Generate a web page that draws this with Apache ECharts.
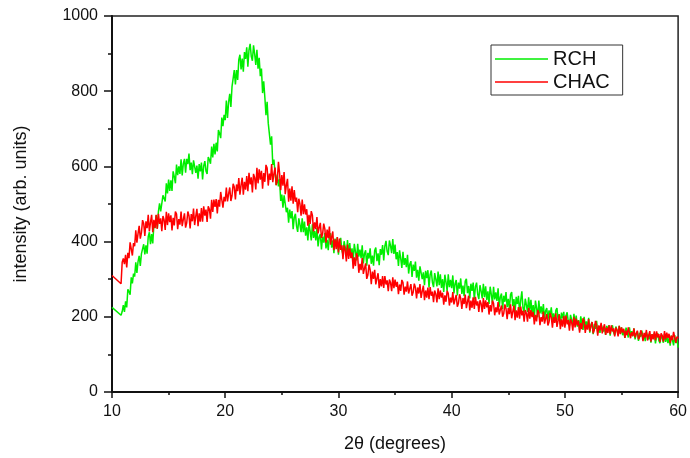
<!DOCTYPE html>
<html>
<head>
<meta charset="utf-8">
<script src="https://cdn.jsdelivr.net/npm/echarts@6/dist/echarts.min.js"></script>
<style>
html,body{margin:0;padding:0;background:#fff;}
#chart{width:690px;height:458px;}
</style>
</head>
<body>
<div id="chart"></div>
<script>
// ---- data ----
const seriesNames = ['RCH', 'CHAC'];
const xTicks = [10, 20, 30, 40, 50, 60];
const yTicks = [0, 200, 400, 600, 800, 1000];

// first recorded point (2θ = 10.0)
const firstX = 10.0;
const rchFirst = 225;
const chacFirst = 310;

// regular scan: 2θ from 10.8 to 60.0, step 0.1
const scanStart = 10.8;
const scanStep = 0.1;

const rch = [
  204, 214,
  231, 213, 241, 225, 273, 267, 259, 305, 289, 315,
  307, 345, 317, 347, 362, 335, 368, 364, 393, 366,
  390, 368, 413, 425, 393, 420, 395, 445, 437, 470,
  435, 480, 502, 480, 475, 523, 518, 507, 555, 528,
  565, 535, 563, 535, 587, 573, 555, 605, 577, 600,
  580, 619, 576, 607, 620, 583, 620, 606, 634, 590,
  610, 579, 616, 621, 583, 602, 567, 606, 587, 610,
  565, 601, 614, 588, 580, 625, 618, 607, 653, 624,
  660, 632, 663, 640, 697, 688, 675, 730, 707, 737,
  723, 775, 729, 771, 793, 758, 812, 809, 856, 818,
  856, 830, 884, 897, 858, 887, 852, 904, 886, 917,
  865, 910, 926, 893, 881, 922, 899, 870, 910, 860,
  889, 840, 860, 795, 826, 784, 736, 772, 715, 712,
  658, 680, 604, 618, 613, 550, 578, 547, 566, 508,
  525, 490, 523, 522, 478, 490, 450, 485, 462, 481,
  433, 465, 474, 441, 426, 462, 445, 425, 462, 425,
  453, 416, 438, 403, 449, 428, 403, 446, 410, 428,
  403, 436, 387, 412, 420, 379, 413, 397, 423, 382,
  405, 377, 416, 422, 384, 403, 369, 408, 389, 411,
  365, 399, 410, 378, 365, 401, 385, 365, 404, 367,
  396, 360, 382, 348, 394, 374, 350, 394, 360, 379,
  356, 390, 342, 368, 377, 336, 370, 355, 382, 341,
  363, 336, 376, 384, 348, 369, 337, 380, 365, 391,
  350, 388, 402, 374, 364, 403, 389, 369, 407, 367,
  392, 353, 372, 335, 377, 355, 330, 373, 338, 356,
  332, 365, 315, 340, 348, 306, 339, 322, 347, 304,
  325, 296, 334, 339, 300, 318, 284, 322, 303, 324,
  278, 312, 323, 292, 279, 316, 300, 281, 320, 284,
  313, 277, 300, 266, 312, 292, 268, 313, 279, 298,
  276, 310, 262, 288, 298, 257, 291, 275, 302, 261,
  283, 255, 295, 301, 263, 282, 249, 288, 269, 291,
  246, 280, 291, 260, 247, 284, 268, 249, 288, 252,
  281, 245, 268, 234, 280, 260, 236, 280, 246, 265,
  242, 276, 227, 253, 262, 221, 256, 240, 266, 226,
  248, 220, 259, 266, 228, 247, 213, 253, 234, 256,
  210, 244, 268, 224, 211, 248, 232, 213, 252, 216,
  245, 209, 231, 197, 243, 223, 199, 243, 209, 228,
  207, 234, 195, 216, 223, 190, 217, 204, 225, 192,
  209, 186, 217, 223, 192, 207, 180, 211, 196, 213,
  176, 203, 212, 187, 176, 205, 192, 177, 208, 180,
  203, 174, 191, 164, 201, 184, 165, 200, 173, 188,
  169, 197, 158, 179, 186, 154, 181, 168, 189, 157,
  173, 157, 180, 184, 161, 173, 152, 176, 164, 178,
  150, 171, 177, 159, 151, 174, 164, 153, 176, 155,
  172, 151, 164, 144, 171, 160, 145, 172, 151, 162,
  148, 169, 140, 155, 161, 136, 157, 147, 163, 138,
  152, 135, 159, 162, 140, 151, 131, 154, 143, 156,
  129, 149, 156, 137, 130, 152, 143, 131, 155, 133,
  151, 130, 143, 123, 150, 139, 124, 151, 130, 142,
  118
];

const chac = [
  288, 345,
  355, 340, 365, 331, 370, 356, 398, 397, 363, 396,
  388, 430, 397, 421, 442, 408, 424, 457, 448, 415,
  454, 436, 471, 427, 451, 471, 425, 458, 436, 471,
  434, 474, 447, 462, 428, 468, 458, 431, 479, 444,
  475, 452, 470, 430, 463, 443, 480, 473, 433, 460,
  445, 480, 441, 459, 475, 437, 450, 480, 469, 435,
  473, 454, 488, 444, 468, 487, 441, 475, 453, 489,
  453, 494, 469, 485, 452, 494, 486, 461, 511, 479,
  512, 492, 513, 475, 511, 493, 532, 528, 490, 519,
  507, 544, 507, 527, 544, 508, 522, 554, 545, 512,
  552, 534, 569, 525, 550, 570, 525, 559, 538, 574,
  534, 583, 552, 571, 531, 580, 570, 539, 596, 555,
  592, 565, 588, 541, 582, 559, 604, 596, 549, 581,
  564, 606, 558, 580, 597, 550, 563, 612, 582, 537,
  577, 549, 585, 526, 550, 567, 506, 541, 509, 547,
  501, 537, 506, 517, 478, 514, 500, 469, 512, 473,
  499, 472, 486, 442, 471, 447, 481, 470, 427, 451,
  433, 465, 422, 437, 450, 410, 420, 448, 434, 397,
  432, 409, 440, 392, 412, 427, 377, 406, 380, 412,
  371, 408, 378, 390, 353, 390, 377, 347, 392, 354,
  382, 356, 371, 328, 358, 335, 369, 359, 317, 341,
  324, 356, 314, 329, 342, 301, 311, 339, 325, 287,
  320, 301, 325, 286, 302, 316, 276, 300, 281, 308,
  277, 308, 286, 297, 268, 299, 291, 268, 305, 276,
  299, 280, 293, 260, 286, 269, 298, 291, 259, 280,
  267, 294, 262, 275, 287, 256, 265, 288, 278, 249,
  278, 262, 287, 250, 268, 283, 244, 270, 251, 278,
  247, 279, 256, 267, 239, 270, 261, 238, 276, 247,
  270, 251, 264, 232, 257, 240, 269, 262, 230, 251,
  238, 266, 233, 246, 258, 227, 236, 260, 249, 221,
  250, 234, 259, 223, 240, 256, 217, 243, 224, 252,
  221, 253, 230, 241, 213, 244, 235, 212, 250, 221,
  244, 225, 239, 206, 231, 214, 243, 236, 204, 225,
  212, 239, 206, 219, 230, 200, 209, 233, 222, 194,
  223, 207, 233, 196, 214, 230, 191, 217, 198, 226,
  195, 227, 204, 216, 187, 218, 209, 187, 224, 195,
  218, 199, 213, 180, 205, 188, 218, 211, 178, 199,
  187, 214, 182, 195, 207, 177, 186, 210, 199, 171,
  200, 184, 209, 173, 190, 206, 167, 193, 174, 202,
  171, 203, 180, 191, 163, 194, 185, 163, 200, 172,
  195, 177, 190, 158, 183, 167, 196, 190, 157, 179,
  166, 194, 161, 175, 186, 156, 165, 189, 178, 150,
  177, 164, 184, 156, 170, 180, 152, 171, 157, 177,
  154, 177, 161, 169, 148, 171, 165, 148, 176, 154,
  172, 158, 168, 144, 163, 151, 172, 168, 143, 159,
  149, 169, 145, 155, 163, 140, 146, 164, 156, 135,
  157, 145, 165, 137, 151, 162, 134, 154, 140, 161,
  137, 161, 145, 154, 133, 156, 150, 134, 162, 140,
  158, 144, 155, 130, 150, 138, 160, 155, 131, 147,
  143
];

function build(firstY, ys) {
  const out = [[firstX, firstY]];
  for (let i = 0; i < ys.length; i++) {
    out.push([Math.round((scanStart + i * scanStep) * 10) / 10, ys[i]]);
  }
  return out;
}

const chart = echarts.init(document.getElementById('chart'), null, {renderer: 'canvas'});
const font = 'Liberation Sans, Arial, sans-serif';

chart.setOption({
  animation: false,
  backgroundColor: '#ffffff',
  grid: {
    left: 112, right: 11, top: 16, bottom: 64,
    show: true, borderColor: '#222', borderWidth: 1.5, backgroundColor: 'transparent'
  },
  legend: {
    data: seriesNames.map(n => ({name: n, icon: 'rect'})),
    orient: 'vertical',
    left: 491, top: 45,
    padding: [4, 13, 3, 4],
    itemWidth: 53, itemHeight: 1.5, itemGap: 3,
    borderColor: '#333', borderWidth: 1,
    textStyle: {fontFamily: font, fontSize: 20, color: '#111'}
  },
  xAxis: {
    type: 'value',
    min: xTicks[0], max: xTicks[xTicks.length - 1], interval: 10,
    name: '2θ (degrees)', nameLocation: 'middle', nameGap: 43,
    nameTextStyle: {fontFamily: font, fontSize: 18, color: '#111'},
    axisLine: {show: true, onZero: false, lineStyle: {color: '#111', width: 2}},
    axisTick: {show: true, inside: false, length: 6, lineStyle: {color: '#111', width: 1.5}},
    minorTick: {show: true, splitNumber: 2, length: 3, lineStyle: {color: '#111', width: 1.5}},
    axisLabel: {fontFamily: font, fontSize: 16, color: '#111', margin: 12},
    splitLine: {show: false}
  },
  yAxis: {
    type: 'value',
    min: yTicks[0], max: yTicks[yTicks.length - 1], interval: 200,
    name: 'intensity (arb. units)', nameLocation: 'middle', nameGap: 82, nameRotate: 90,
    nameTextStyle: {fontFamily: font, fontSize: 18, color: '#111'},
    axisLine: {show: true, onZero: false, lineStyle: {color: '#111', width: 2}},
    axisTick: {show: true, inside: false, length: 8, lineStyle: {color: '#111', width: 1.5}},
    minorTick: {show: true, splitNumber: 2, length: 4, lineStyle: {color: '#111', width: 1.5}},
    axisLabel: {fontFamily: font, fontSize: 16, color: '#111', margin: 14, formatter: v => String(v)},
    splitLine: {show: false}
  },
  series: [
    {
      name: seriesNames[0], type: 'line', data: build(rchFirst, rch),
      symbol: 'none', lineStyle: {color: '#00ee00', width: 1.5}, itemStyle: {color: '#00ee00'},
      z: 2
    },
    {
      name: seriesNames[1], type: 'line', data: build(chacFirst, chac),
      symbol: 'none', lineStyle: {color: '#ff0000', width: 1.5}, itemStyle: {color: '#ff0000'},
      z: 3
    }
  ]
});
</script>
</body>
</html>
